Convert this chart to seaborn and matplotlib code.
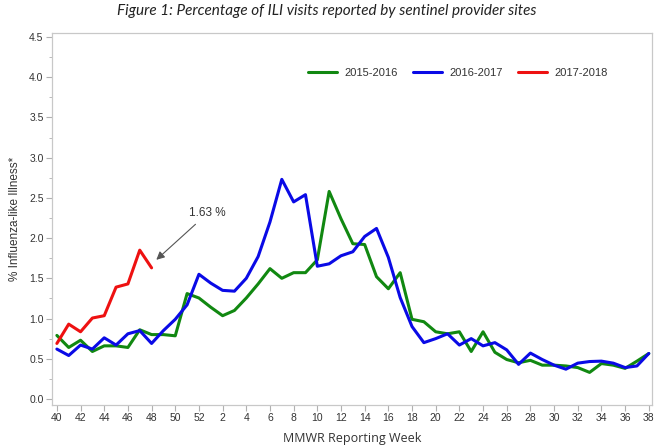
import pandas as pd
import matplotlib
matplotlib.use("Agg")
import matplotlib.pyplot as plt
import seaborn as sns

# MMWR weeks of the flu season (week 40 to week 38 of the next year)
weeks = list(range(40, 53)) + list(range(1, 39))

# % ILI per season
ili_2015_2016 = [0.79, 0.64, 0.73, 0.59, 0.66, 0.66, 0.64, 0.86, 0.80, 0.80, 0.785, 1.31, 1.255,
                 1.14, 1.035, 1.10, 1.255, 1.43, 1.62, 1.50, 1.57, 1.57, 1.73,
                 2.58, 2.24, 1.93, 1.92, 1.52, 1.37, 1.57, 0.99, 0.96, 0.835,
                 0.81, 0.835, 0.59, 0.835, 0.58, 0.49, 0.45, 0.48, 0.42, 0.42,
                 0.41, 0.39, 0.33, 0.44, 0.42, 0.38, 0.47, 0.565]
ili_2016_2017 = [0.62, 0.54, 0.67, 0.62, 0.76, 0.67, 0.81, 0.85, 0.69, 0.85, 0.99, 1.17, 1.55,
                 1.44, 1.35, 1.34, 1.50, 1.77, 2.20, 2.73, 2.45, 2.54, 1.65,
                 1.68, 1.78, 1.83, 2.02, 2.12, 1.76, 1.26, 0.90, 0.70, 0.75,
                 0.81, 0.67, 0.75, 0.66, 0.70, 0.61, 0.43, 0.57, 0.49, 0.42,
                 0.37, 0.445, 0.465, 0.47, 0.445, 0.39, 0.41, 0.565]
ili_2017_2018 = [0.69, 0.93, 0.835, 1.006, 1.035, 1.39, 1.43, 1.85, 1.63]

seasons = ["2015-2016", "2016-2017", "2017-2018"]
colors = ["#118811", "#0a0ae6", "#ee1111"]

# table in long form for seaborn
rows = []
for season, values in zip(seasons, [ili_2015_2016, ili_2016_2017, ili_2017_2018]):
    for i, v in enumerate(values):
        rows.append({"pos": i, "week": weeks[i], "season": season, "ili": v})
df = pd.DataFrame(rows)

sns.set_style("white")
plt.rcParams["font.family"] = ["Liberation Sans", "DejaVu Sans"]

fig = plt.figure(figsize=(6.57, 4.46), dpi=100)
ax = fig.add_axes([0.079, 0.092, 0.913, 0.834])

sns.lineplot(data=df, x="pos", y="ili", hue="season", palette=colors,
             linewidth=2.2, ax=ax, legend=True)

# axes
ax.set_xlim(-0.42, 50.25)
ax.set_ylim(-0.075, 4.55)
ax.set_xticks(range(0, len(weeks), 2))
ax.set_xticklabels([str(w) for w in weeks[::2]])
ax.set_yticks([i * 0.5 for i in range(10)])
ax.set_yticklabels([f"{i * 0.5:.1f}" for i in range(10)])
ax.set_yticks([0.25 + i * 0.5 for i in range(9)], minor=True)
ax.tick_params(axis="both", which="major", direction="out", length=4, width=0.8,
               color="#b0b0b0", labelsize=7.5, labelcolor="#333333", pad=2)
ax.tick_params(axis="y", which="minor", direction="out", length=2, width=0.6,
               color="#b0b0b0", left=True)
ax.tick_params(axis="x", bottom=True)
ax.tick_params(axis="y", left=True)
for s in ax.spines.values():
    s.set_color("#c8c8c8")
    s.set_linewidth(0.9)

ax.set_xlabel("MMWR Reporting Week", fontsize=9, color="#333333", family=["Open Sans", "DejaVu Sans"],
              labelpad=6)
ax.set_ylabel("% Influenza-like Illness*", fontsize=8.5, color="#333333", labelpad=6)

# legend on one row, top right
leg = ax.legend(title=None, ncol=3, frameon=False, fontsize=8, loc="upper left",
                bbox_to_anchor=(0.427, 0.906), borderaxespad=0, borderpad=0,
                handlelength=2.6, columnspacing=1.35, handletextpad=0.7)
for t in leg.get_texts():
    t.set_color("#333333")

# latest value callout
last = len(ili_2017_2018) - 1
ax.annotate(f"{ili_2017_2018[last]:.2f} %", xy=(last + 0.4, ili_2017_2018[last] + 0.1),
            xytext=(11.2, 2.31), fontsize=8.5, color="#333333", va="center",
            arrowprops=dict(arrowstyle="-|>", color="#555555", lw=0.8,
                            shrinkA=2, shrinkB=0, mutation_scale=12))

fig.suptitle("Figure 1: Percentage of ILI visits reported by sentinel provider sites",
             x=0.497, y=0.99, fontsize=11, style="italic", color="#222222",
             family=["Lato", "DejaVu Sans"])

fig.savefig("out.png", dpi=100)
